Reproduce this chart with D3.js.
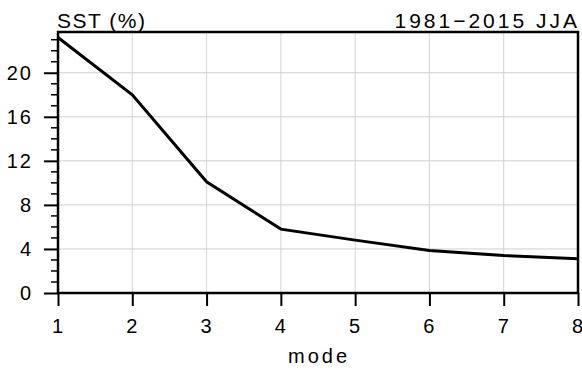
<!DOCTYPE html>
<html>
<head>
<meta charset="utf-8">
<script src="https://cdn.jsdelivr.net/npm/d3@7"></script>
<style>
  body { margin: 0; background: #fff; }
  text { font-family: "Liberation Sans", Arial, sans-serif; fill: #000; }
</style>
</head>
<body>
<div id="chart"></div>
<script>
// explained variance per mode
const modes = [1, 2, 3, 4, 5, 6, 7, 8];
const variance = [23.2, 18.0, 10.1, 5.8, 4.8, 3.85, 3.4, 3.1];
const yTicks = [0, 4, 8, 12, 16, 20];
const leftTitle = "SST (%)";
const rightTitle = "1981\u22122015 JJA";
const xTitle = "mode";

const width = 582, height = 371;
const margin = { top: 32, right: 4, bottom: 78, left: 58 };
const w = width - margin.left - margin.right;
const h = height - margin.top - margin.bottom;

const svg = d3.select("#chart").append("svg")
  .attr("width", width)
  .attr("height", height);

const g = svg.append("g")
  .attr("transform", `translate(${margin.left},${margin.top})`);

const x = d3.scaleLinear().domain([1, 8]).range([0, w]);
const y = d3.scaleLinear().domain([0, 23.7]).range([h, 0]);

// grid
g.append("g").selectAll("line")
  .data(modes.slice(1, -1))
  .join("line")
  .attr("x1", d => x(d)).attr("x2", d => x(d))
  .attr("y1", 0).attr("y2", h)
  .attr("stroke", "#d4d4d4").attr("stroke-width", 1);

g.append("g").selectAll("line")
  .data(yTicks.slice(1))
  .join("line")
  .attr("x1", 0).attr("x2", w)
  .attr("y1", d => y(d)).attr("y2", d => y(d))
  .attr("stroke", "#d0d0d0").attr("stroke-width", 1);

// minor y ticks
g.append("g").selectAll("line")
  .data(d3.range(0, 24).filter(v => v % 4 !== 0))
  .join("line")
  .attr("x1", -7).attr("x2", 0)
  .attr("y1", d => y(d)).attr("y2", d => y(d))
  .attr("stroke", "#000").attr("stroke-width", 1.5);

// axes
const yAxis = g.append("g")
  .call(d3.axisLeft(y).tickValues(yTicks).tickSize(14).tickPadding(11));
const xAxis = g.append("g")
  .attr("transform", `translate(0,${h})`)
  .call(d3.axisBottom(x).tickValues(modes).tickFormat(d3.format("d")).tickSize(13).tickPadding(13));

[yAxis, xAxis].forEach(a => {
  a.attr("font-size", null).attr("font-family", null);
  a.select(".domain").remove();
  a.selectAll(".tick line").attr("stroke", "#000").attr("stroke-width", 2);
  a.selectAll(".tick text")
    .style("font-size", "20px")
    .style("letter-spacing", "2px");
});

// frame
g.append("rect")
  .attr("width", w).attr("height", h)
  .attr("fill", "none").attr("stroke", "#000").attr("stroke-width", 2.5);

// line
g.append("path")
  .datum(modes.map((m, i) => [m, variance[i]]))
  .attr("fill", "none")
  .attr("stroke", "#000")
  .attr("stroke-width", 3)
  .attr("d", d3.line().x(d => x(d[0])).y(d => y(d[1])));

// titles
svg.append("text").attr("x", margin.left - 1).attr("y", 28)
  .style("font-size", "21px").style("letter-spacing", "1.5px").text(leftTitle);
svg.append("text").attr("x", width - 2).attr("y", 28)
  .style("font-size", "21px").style("letter-spacing", "3px")
  .attr("text-anchor", "end").text(rightTitle);
svg.append("text").attr("x", margin.left + w / 2 + 1).attr("y", 363)
  .style("font-size", "20px").style("letter-spacing", "3px")
  .attr("text-anchor", "middle").text(xTitle);
</script>
</body>
</html>
